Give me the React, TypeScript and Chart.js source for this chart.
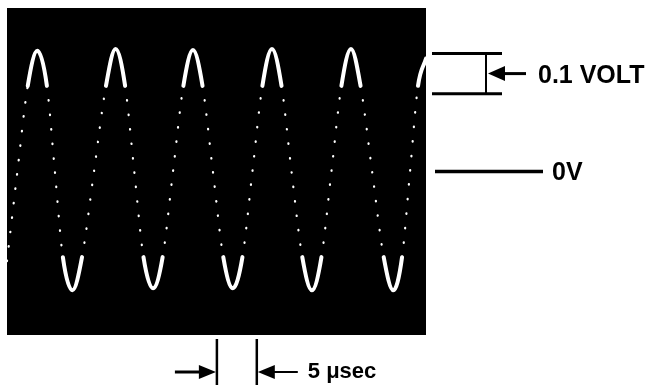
import React, { useEffect, useRef } from "react";
import { Chart, registerables } from "chart.js";

Chart.register(...registerables);

// Trace: time (µs) and voltage (V)
const TIME_US = [
  0, 1.3, 2.6, 3.8, 5.0, 6.0, 7.0, 8.2, 9.4, 10.9, 12.4, 13.6, 14.8, 15.95, 17.1,
  18.3, 19.5, 20.8, 22.1, 23.3, 24.5, 25.8, 27.1, 28.3, 29.5, 30.75, 32.0, 33.2,
  34.4, 35.65, 37.0, 38.2, 39.4, 40.65, 41.9, 43.1, 44.3, 45.75, 47.2, 48.4, 49.5,
  50.5, 51.5, 52.5,
];
const VOLTS = [
  -0.23, 0, 0.22, 0.31, 0.22, 0, -0.22, -0.305, -0.22, 0, 0.22, 0.315, 0.22, 0, -0.22,
  -0.3, -0.22, 0, 0.22, 0.312, 0.22, 0, -0.22, -0.3, -0.22, 0, 0.22, 0.315,
  0.22, 0, -0.22, -0.305, -0.22, 0, 0.22, 0.315, 0.22, 0, -0.22, -0.305, -0.22,
  0, 0.22, 0.29,
];

const TIME_RANGE = [0, 52.5];
const VOLT_RANGE = [-0.42, 0.42];
const SCALE_BRACKET_V = [0.2, 0.303];
const ZERO_V = 0;
const TIME_MARKERS_US = [26.3, 31.3];
const LABEL_VOLT = "0.1 VOLT";
const LABEL_ZERO = "0V";
const LABEL_TIME = "5 \u03BCsec";

const BRIGHT_LEVEL = 0.2;

function arrowHead(ctx: CanvasRenderingContext2D, tipX: number, baseX: number, y: number, half: number) {
  ctx.beginPath();
  ctx.moveTo(tipX, y);
  ctx.lineTo(baseX, y - half);
  ctx.lineTo(baseX, y + half);
  ctx.closePath();
  ctx.fill();
}

function hline(ctx: CanvasRenderingContext2D, x1: number, x2: number, y: number, w: number) {
  ctx.lineWidth = w;
  ctx.beginPath();
  ctx.moveTo(x1, y);
  ctx.lineTo(x2, y);
  ctx.stroke();
}

function vline(ctx: CanvasRenderingContext2D, x: number, y1: number, y2: number, w: number) {
  ctx.lineWidth = w;
  ctx.beginPath();
  ctx.moveTo(x, y1);
  ctx.lineTo(x, y2);
  ctx.stroke();
}

const scopePlugin = {
  id: "scopeDecor",
  beforeDraw(chart: any) {
    const { ctx, chartArea: a } = chart;
    ctx.save();
    ctx.fillStyle = "#000";
    ctx.fillRect(a.left, a.top, a.right - a.left, a.bottom - a.top);
    ctx.restore();
  },
  afterDraw(chart: any) {
    const { ctx, chartArea: a } = chart;
    const ys = chart.scales.y;
    const xs = chart.scales.x;
    const R = a.right;
    ctx.save();
    ctx.strokeStyle = "#000";
    ctx.fillStyle = "#000";
    ctx.lineCap = "butt";

    // 0.1 volt bracket
    const yLo = ys.getPixelForValue(SCALE_BRACKET_V[0]);
    const yHi = ys.getPixelForValue(SCALE_BRACKET_V[1]);
    const yMid = (yLo + yHi) / 2;
    hline(ctx, R + 6, R + 76, yHi, 3);
    hline(ctx, R + 6, R + 76, yLo, 3);
    vline(ctx, R + 60, yHi, yLo, 2);
    arrowHead(ctx, R + 62, R + 79, yMid, 7.5);
    hline(ctx, R + 78, R + 100, yMid, 3);
    ctx.font = 'bold 25px "Liberation Sans", Arial, sans-serif';
    ctx.textBaseline = "alphabetic";
    ctx.textAlign = "left";
    ctx.fillText(LABEL_VOLT, R + 112, yMid + 9);

    // 0V reference line
    const y0 = ys.getPixelForValue(ZERO_V);
    hline(ctx, R + 9, R + 117, y0, 3.5);
    ctx.fillText(LABEL_ZERO, R + 126, y0 + 8.5);

    // 5 µsec time markers
    const x1 = xs.getPixelForValue(TIME_MARKERS_US[0]);
    const x2 = xs.getPixelForValue(TIME_MARKERS_US[1]);
    const H = chart.height;
    vline(ctx, x1, a.bottom + 4, H, 2.5);
    vline(ctx, x2, a.bottom + 4, H, 2.5);
    const ay = a.bottom + 37;
    arrowHead(ctx, x1 - 1, x1 - 18, ay, 7);
    hline(ctx, x1 - 42, x1 - 17, ay, 3);
    arrowHead(ctx, x2 + 1, x2 + 18, ay, 7);
    hline(ctx, x2 + 17, x2 + 41, ay, 2);
    ctx.font = 'bold 22px "Liberation Sans", Arial, sans-serif';
    ctx.fillText(LABEL_TIME, x2 + 51, ay + 6);
    ctx.restore();
  },
};

export default function App() {
  const ref = useRef<HTMLCanvasElement | null>(null);

  useEffect(() => {
    if (!ref.current) return;
    const bright = (c: any) =>
      Math.min(Math.abs(c.p0.parsed.y), Math.abs(c.p1.parsed.y)) >= BRIGHT_LEVEL;
    const chart = new Chart(ref.current, {
      type: "line",
      data: {
        datasets: [
          {
            data: TIME_US.map((t, i) => ({ x: t, y: VOLTS[i] })),
            borderColor: "#ffffff",
            borderWidth: 2.5,
            borderCapStyle: "round",
            borderJoinStyle: "round",
            pointRadius: 0,
            cubicInterpolationMode: "monotone",
            segment: {
              borderWidth: (c: any) => (bright(c) ? 4 : 2.2),
              borderDash: (c: any) => (bright(c) ? [] : [0.5, 14]),
            },
          } as any,
        ],
      },
      options: {
        animation: false,
        responsive: false,
        events: [],
        layout: { padding: { left: 7, top: 8, right: 228, bottom: 50 } },
        plugins: { legend: { display: false }, tooltip: { enabled: false } },
        scales: {
          x: { type: "linear", min: TIME_RANGE[0], max: TIME_RANGE[1], display: false },
          y: { type: "linear", min: VOLT_RANGE[0], max: VOLT_RANGE[1], display: false },
        },
      },
      plugins: [scopePlugin],
    });
    return () => chart.destroy();
  }, []);

  return (
    <div style={{ position: "fixed", left: 0, top: 0, width: 654, height: 385, background: "#fff" }}>
      <canvas ref={ref} width={654} height={385} style={{ width: 654, height: 385, display: "block" }} />
    </div>
  );
}
